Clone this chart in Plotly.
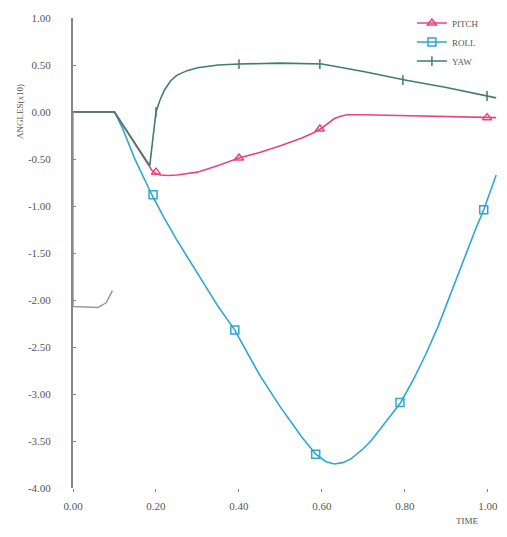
import plotly.graph_objects as go

# ---- data ----
time_yaw = [0.0, 0.10, 0.185, 0.195, 0.20, 0.21, 0.22, 0.235, 0.25, 0.275, 0.30, 0.35, 0.40, 0.50, 0.60, 0.70, 0.80, 0.90, 1.00, 1.02]
yaw = [0.0, 0.0, -0.57, -0.15, 0.0, 0.13, 0.23, 0.33, 0.39, 0.44, 0.47, 0.50, 0.51, 0.52, 0.51, 0.43, 0.34, 0.26, 0.17, 0.15]

time_pitch = [0.0, 0.10, 0.19, 0.20, 0.21, 0.23, 0.25, 0.30, 0.35, 0.40, 0.45, 0.50, 0.55, 0.58, 0.60, 0.615, 0.63, 0.645, 0.66, 0.70, 0.80, 0.90, 1.00, 1.02]
pitch = [0.0, 0.0, -0.62, -0.655, -0.67, -0.675, -0.67, -0.64, -0.57, -0.49, -0.43, -0.36, -0.28, -0.22, -0.17, -0.12, -0.07, -0.045, -0.03, -0.03, -0.04, -0.05, -0.06, -0.06]

time_roll = [0.0, 0.10, 0.12, 0.15, 0.19, 0.22, 0.25, 0.30, 0.35, 0.39, 0.45, 0.50, 0.55, 0.585, 0.61, 0.63, 0.65, 0.67, 0.70, 0.72, 0.75, 0.79, 0.82, 0.85, 0.88, 0.90, 0.93, 0.95, 0.97, 0.99, 1.01, 1.02]
roll = [0.0, 0.0, -0.18, -0.51, -0.88, -1.13, -1.36, -1.72, -2.07, -2.32, -2.80, -3.14, -3.45, -3.64, -3.72, -3.745, -3.73, -3.69, -3.58, -3.49, -3.32, -3.09, -2.85, -2.58, -2.28, -2.05, -1.72, -1.48, -1.25, -1.04, -0.80, -0.67]

# marker samples
mk_yaw_t = [0.20, 0.40, 0.595, 0.795, 0.998]
mk_yaw_v = [0.0, 0.51, 0.51, 0.34, 0.17]
mk_pitch_t = [0.20, 0.40, 0.595, 0.998]
mk_pitch_v = [-0.64, -0.49, -0.18, -0.06]
mk_roll_t = [0.193, 0.39, 0.585, 0.788, 0.99]
mk_roll_v = [-0.88, -2.32, -3.64, -3.09, -1.04]

# stray pencil trace near the origin
stray_t = [0.0, 0.0, 0.06, 0.08, 0.095]
stray_v = [0.0, -2.07, -2.08, -2.03, -1.90]

tick_x = [0.0, 0.2, 0.4, 0.6, 0.8, 1.0]
tick_x_text = ["0.00", "0.20", "0.40", "0.60", "0.80", "1.00"]
tick_y = [1.0, 0.5, 0.0, -0.5, -1.0, -1.5, -2.0, -2.5, -3.0, -3.5, -4.0]
tick_y_text = ["1.00", "0.50", "0.00", "-0.50", "-1.00", "-1.50", "-2.00", "-2.50", "-3.00", "-3.50", "-4.00"]

C_PITCH = "#e8457c"
C_ROLL = "#2ea6d6"
C_YAW = "#3f7f66"
FONT = "Liberation Serif"

fig = go.Figure()

fig.add_trace(go.Scatter(x=stray_t, y=stray_v, mode="lines", line=dict(color="#999999", width=1.5),
                         showlegend=False, hoverinfo="skip"))

for t, v, c in [(time_roll, roll, C_ROLL), (time_pitch, pitch, C_PITCH), (time_yaw, yaw, C_YAW)]:
    fig.add_trace(go.Scatter(x=t, y=v, mode="lines", line=dict(color=c, width=1.6),
                             showlegend=False))

fig.add_trace(go.Scatter(x=mk_pitch_t, y=mk_pitch_v, mode="markers",
                         marker=dict(symbol="triangle-up-open", size=8, color=C_PITCH, line=dict(width=1.5)),
                         showlegend=False))
fig.add_trace(go.Scatter(x=mk_roll_t, y=mk_roll_v, mode="markers",
                         marker=dict(symbol="square-open", size=8, color=C_ROLL, line=dict(width=1.5)),
                         showlegend=False))
fig.add_trace(go.Scatter(x=mk_yaw_t, y=mk_yaw_v, mode="markers",
                         marker=dict(symbol="line-ns-open", size=7, color=C_YAW, line=dict(width=1.5, color=C_YAW)),
                         showlegend=False))

# legend entries
fig.add_trace(go.Scatter(x=[None], y=[None], mode="lines+markers", name="PITCH",
                         line=dict(color=C_PITCH, width=1.5),
                         marker=dict(symbol="triangle-up-open", size=8, color=C_PITCH, line=dict(width=1.5))))
fig.add_trace(go.Scatter(x=[None], y=[None], mode="lines+markers", name="ROLL",
                         line=dict(color=C_ROLL, width=1.5),
                         marker=dict(symbol="square-open", size=8, color=C_ROLL, line=dict(width=1.5))))
fig.add_trace(go.Scatter(x=[None], y=[None], mode="lines+markers", name="YAW",
                         line=dict(color=C_YAW, width=1.5),
                         marker=dict(symbol="line-ns-open", size=7, color=C_YAW, line=dict(width=1.5, color=C_YAW))))

fig.update_layout(
    width=507, height=537,
    margin=dict(l=73, r=5, t=18, b=49),
    paper_bgcolor="white", plot_bgcolor="white",
    font=dict(family=FONT, size=11, color="#555555"),
    showlegend=True,
    legend=dict(x=0.79, y=1.02, xanchor="left", yanchor="top", bgcolor="rgba(0,0,0,0)",
                font=dict(family=FONT, size=9, color="#555555"),
                tracegroupgap=0),
    xaxis=dict(range=[0, 1.034], showgrid=False, zeroline=False, showline=False,
               tickvals=tick_x, ticktext=tick_x_text, ticks="outside", ticklen=3,
               tickcolor="#888888", ticklabelstandoff=5),
    yaxis=dict(range=[-4.0, 1.0], showgrid=False, zeroline=False, showline=True,
               linecolor="#888888", linewidth=2,
               tickvals=tick_y, ticktext=tick_y_text, ticks="inside", ticklen=3,
               tickcolor="#888888", ticklabelstandoff=18),
    annotations=[
        dict(text="ANGLES(x10)", x=0, xref="paper", xshift=-60, y=0.0, yref="y",
             textangle=-90, showarrow=False, font=dict(family=FONT, size=9, color="#555555")),
        dict(text="TIME", xref="paper", x=(480 - 73) / 429, yref="paper", y=-(528 - 488) / 470,
             showarrow=False, font=dict(family=FONT, size=9, color="#555555")),
    ],
)

fig.write_html("out.html")
